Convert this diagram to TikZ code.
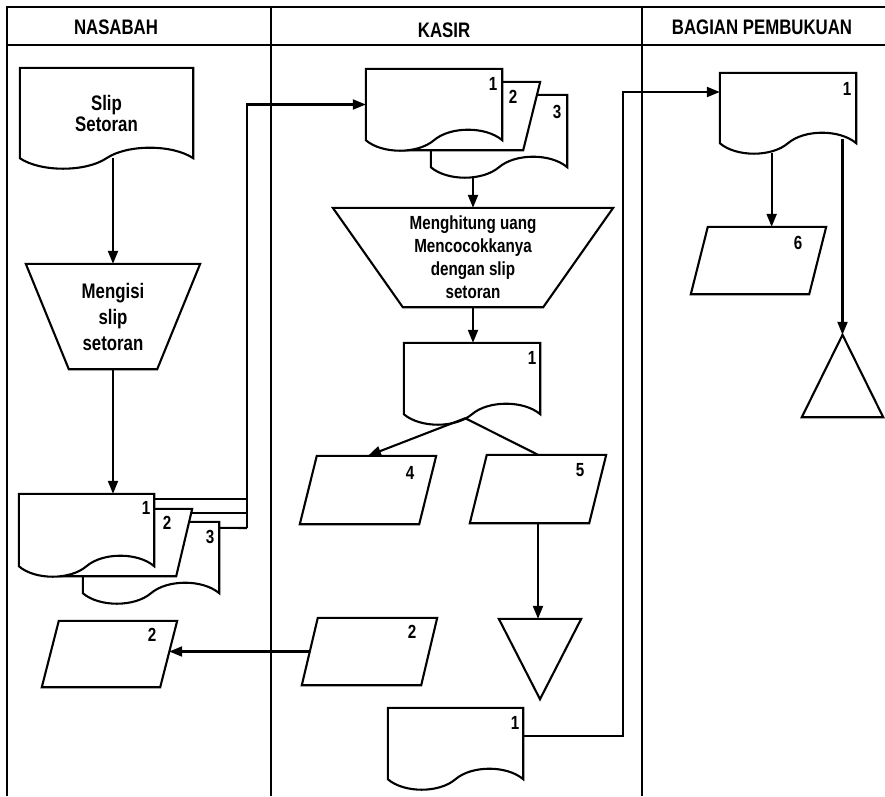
\documentclass[tikz,border=0pt]{standalone}
\usepackage{fontspec}
\setmainfont{Liberation Sans}[FakeStretch=0.8]
\usetikzlibrary{arrows.meta, calc, positioning, backgrounds}
\tikzset{
  >={Triangle[length=13pt, width=10pt]},
  shapeline/.style={line width=2.1pt, fill=white, line join=miter},
  flowline/.style={line width=2.1pt},
  flowarrow/.style={-{Triangle[length=13pt, width=10pt]}, line width=2.1pt},
  lanetitle/.style={font=\fontsize{21}{22}\selectfont\bfseries, inner sep=0pt},
  boxtext/.style={font=\fontsize{21}{26}\selectfont\bfseries, align=center, inner sep=0pt},
  numtext/.style={font=\fontsize{19}{20}\selectfont\bfseries, inner sep=0pt},
  shapebox/.style 2 args={minimum width=#1, minimum height=#2, inner sep=0pt}
}
\newcommand{\docshape}[1]{%
  \begin{pgfonlayer}{background}
  \draw[shapeline] (#1.south west) -- (#1.north west) -- (#1.north east) -- (#1.south east)
    .. controls ($(#1.south east)!0.12!(#1.south west)+(0,-14)$) and ($(#1.south east)!0.38!(#1.south west)+(0,-14)$) .. ($(#1.south east)!0.5!(#1.south west)$)
    .. controls ($(#1.south east)!0.62!(#1.south west)+(0,14)$) and ($(#1.south east)!0.88!(#1.south west)+(0,14)$) .. (#1.south west) -- cycle;
  \end{pgfonlayer}}
\newcommand{\pageshape}[2]{%
  \begin{pgfonlayer}{background}
  \draw[shapeline] (#1.north west) -- (#1.north east) -- ($(#1.south east)+(-#2,0)$) -- (#1.south west) -- cycle;
  \end{pgfonlayer}}
\newcommand{\parashape}[2]{%
  \begin{pgfonlayer}{background}
  \draw[shapeline] ($(#1.north west)+(#2,0)$) -- (#1.north east) -- ($(#1.south east)+(-#2,0)$) -- (#1.south west) -- cycle;
  \end{pgfonlayer}}
\newcommand{\trapshape}[2]{%
  \begin{pgfonlayer}{background}
  \draw[shapeline] (#1.north west) -- (#1.north east) -- ($(#1.south east)+(-#2,0)$) -- ($(#1.south west)+(#2,0)$) -- cycle;
  \end{pgfonlayer}}
\newcommand{\downtri}[1]{%
  \begin{pgfonlayer}{background}
  \draw[shapeline] (#1.north west) -- (#1.north east) -- (#1.south) -- cycle;
  \end{pgfonlayer}}
\newcommand{\uptri}[1]{%
  \begin{pgfonlayer}{background}
  \draw[shapeline] (#1.north) -- (#1.south east) -- (#1.south west) -- cycle;
  \end{pgfonlayer}}
\begin{document}
\begin{tikzpicture}[x=1pt, y=-1pt]
    \useasboundingbox (0,0) rectangle (885,796);

    \draw[flowline] (7,796) -- (7,7) -- (885,7);
    \draw[flowline] (7,45) -- (885,45);
    \draw[flowline] (271,7) -- (271,796);
    \draw[flowline] (642,7) -- (642,796);
    \node[lanetitle] (hnasabah) at (116,27) {NASABAH};
    \node[lanetitle] (hkasir) at (444,30) {KASIR};
    \node[lanetitle] (hbagian) at (762,27) {BAGIAN PEMBUKUAN};

    \node[boxtext, font=\fontsize{21}{21}\selectfont\bfseries, shapebox={173}{90}] (slip) at (106.5,113) {Slip\\Setoran};
    \docshape{slip}
    \node[boxtext, shapebox={174}{105}] (isi) at (113,316.5) {Mengisi\\slip\\setoran};
    \trapshape{isi}{43}
    \node[shapebox={136}{71}] (nd3) at (151,557.5) {};
    \docshape{nd3}
    \node[shapebox={132}{67}] (nd2) at (126,542.5) {};
    \pageshape{nd2}{16}
    \node[shapebox={135}{72}] (nd1) at (86.5,530) {};
    \docshape{nd1}
    \node[numtext] (nd1num) at (146,508) {1};
    \node[numtext] (nd2num) at (167,523) {2};
    \node[numtext] (nd3num) at (210,537) {3};
    \node[shapebox={135}{66}] (pn2) at (109.5,654) {};
    \parashape{pn2}{17}
    \node[numtext] (pn2num) at (152,635) {2};

    \node[shapebox={136}{72}] (kd3) at (499,131) {};
    \docshape{kd3}
    \node[shapebox={140}{68}] (kd2) at (470,116) {};
    \pageshape{kd2}{17}
    \node[shapebox={136}{71}] (kd1) at (434,104.5) {};
    \docshape{kd1}
    \node[numtext] (kd1num) at (493,84) {1};
    \node[numtext] (kd2num) at (513,97) {2};
    \node[numtext] (kd3num) at (557,112) {3};
    \node[boxtext, font=\fontsize{19}{23}\selectfont\bfseries, shapebox={280}{99}] (hit) at (473,257.5) {Menghitung uang\\Mencocokkanya\\dengan slip\\setoran};
    \trapshape{hit}{70}
    \node[shapebox={136}{71}] (km) at (472,378.5) {};
    \docshape{km}
    \node[numtext] (kmnum) at (532,358) {1};
    \node[shapebox={136}{68}] (p4) at (368,490) {};
    \parashape{p4}{17}
    \node[numtext] (p4num) at (410,473) {4};
    \node[shapebox={136}{68}] (p5) at (538,489) {};
    \parashape{p5}{17}
    \node[numtext] (p5num) at (580,470) {5};
    \node[shapebox={82}{80}] (ktri) at (540,659) {};
    \downtri{ktri}
    \node[shapebox={135}{67}] (pk2) at (369.5,651.5) {};
    \parashape{pk2}{16}
    \node[numtext] (pk2num) at (412,632) {2};
    \node[shapebox={135}{71}] (kd4) at (455.5,743.5) {};
    \docshape{kd4}
    \node[numtext] (kd4num) at (515,723) {1};

    \node[shapebox={136}{70}] (bdoc) at (788,108) {};
    \docshape{bdoc}
    \node[numtext] (bdocnum) at (847,89) {1};
    \node[shapebox={135}{67}] (p6) at (758.5,260.5) {};
    \parashape{p6}{17}
    \node[numtext] (p6num) at (798,243) {6};
    \node[shapebox={81}{82}] (btri) at (842.5,376) {};
    \uptri{btri}

    \coordinate (busa) at (247,528);
    \coordinate (busb) at (623,92);
    \coordinate (split) at ($(km.south west)!0.45!(km.south east)+(0,4)$);
    \coordinate (b6) at ($(bdoc.south west)!0.38!(bdoc.south east)+(0,10)$);
    \coordinate (bt) at ($(btri.north |- bdoc.south)+(0,-4)$);

    \draw[flowarrow] (slip.south -| isi.north) -- (isi.north);
    \draw[flowarrow] (isi.south) -- (isi.south |- nd1.north);
    \draw[flowline] ($(nd1.north east)+(0,5)$) -| (busa);
    \draw[flowline] ($(nd2.north east)+(-1,4)$) -| (busa);
    \draw[flowline] ($(nd3.north east)+(0,6)$) -- (busa);
    \draw[flowarrow] (busa) |- (kd1.west);
    \draw[flowarrow] ($(hit.north |- kd3.south)+(0,9)$) -- (hit.north);
    \draw[flowarrow] (hit.south) -- (hit.south |- km.north);
    \draw[flowarrow] (split) -- (p4.north);
    \draw[flowline] (split) -- (p5.north);
    \draw[flowarrow] (p5.south) -- (p5.south |- ktri.north);
    \draw[flowarrow] ($(pk2.west)+(8,0)$) -- ($(pk2.west -| pn2.east)+(-8,0)$);
    \draw[flowarrow] ($(kd4.north east)+(0,28)$) -| (busb) -- (busb -| bdoc.west);
    \draw[flowarrow] (b6) -- (b6 |- p6.north);
    \draw[flowarrow] (bt) -- (btri.north);
\end{tikzpicture}
\end{document}
